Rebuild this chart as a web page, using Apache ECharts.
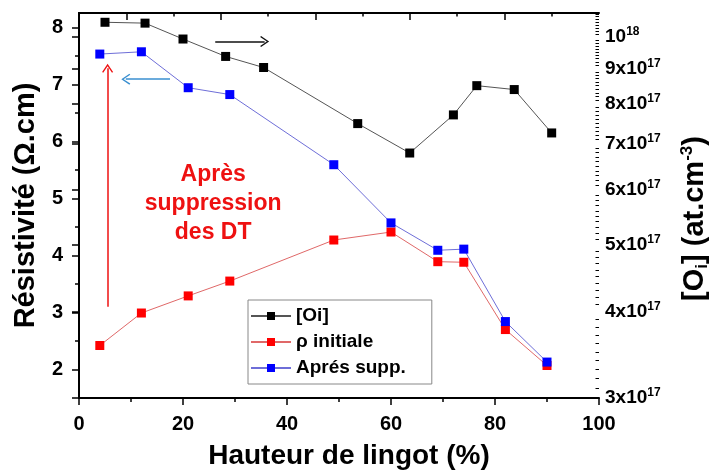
<!DOCTYPE html>
<html><head><meta charset="utf-8">
<script src="https://cdn.jsdelivr.net/npm/echarts@6/dist/echarts.min.js"></script>
<style>html,body{margin:0;padding:0;background:#fff}#c{width:710px;height:470px}</style>
</head><body><div id="c"></div>
<script>
// ---- data ----
const xPos = [4, 12, 21, 29, 49, 60, 69, 74, 82, 90];
const rhoInitiale = [2.42, 2.99, 3.29, 3.55, 4.27, 4.41, 3.89, 3.88, 2.70, 2.07];
const rhoApres = [7.53, 7.57, 6.94, 6.82, 5.59, 4.57, 4.09, 4.11, 2.84, 2.13];
const xOi = [5.0, 12.7, 20.0, 28.2, 35.5, 53.6, 63.6, 72.0, 76.5, 83.7, 90.9];
const oiValues = [1.05e18, 1.047e18, 9.93e17, 9.37e17, 9.03e17, 7.49e17, 6.79e17, 7.71e17, 8.50e17, 8.39e17, 7.26e17];

const seriesNames = ['[Oi]', 'ρ initiale', 'Aprés supp.'];
const leftTicks = [2, 3, 4, 5, 6, 7, 8];
const leftMinorTicks = [1.5, 2.5, 3.5, 4.5, 5.5, 6.5, 7.5];
const rightTicks = [3e17, 4e17, 5e17, 6e17, 7e17, 8e17, 9e17, 1e18];
const rightTickLabels = ['{m|3x10}{e|17}', '{m|4x10}{e|17}', '{m|5x10}{e|17}', '{m|6x10}{e|17}',
  '{m|7x10}{e|17}', '{m|8x10}{e|17}', '{m|9x10}{e|17}', '{m|10}{e|18}'];
const topLongTicks = [10, 30, 50, 70, 90];
const topShortTicks = [20, 40, 60, 80, 100];
const annotationText = 'Après\nsuppression\ndes DT';
// minor ticks of the right log axis, every 1e16
const rightMinorTicks = [];
for (let k = 30; k <= 108; k++) { if (k % 10 !== 0) rightMinorTicks.push(k * 1e16); }

const pair = (xs, ys) => xs.map((x, i) => [x, ys[i]]);
const FONT = "'Liberation Sans', Arial, sans-serif";
const chevron = 'path://M0,0 L6,9 L4.8,10 L0,2.6 L-4.8,10 L-6,9 Z';
const blank = () => '';
const tickLine = {color: '#000', width: 1.5};

const chart = echarts.init(document.getElementById('c'), null, {renderer: 'canvas'});
chart.setOption({
  animation: false,
  backgroundColor: '#fff',
  textStyle: {fontFamily: FONT},
  grid: {left: 79, right: 111, top: 13, bottom: 72, containLabel: false, outerBoundsMode: 'none'},
  legend: {
    data: seriesNames,
    orient: 'vertical',
    left: 248, top: 300,
    padding: [5, 26, 5, 2],
    itemGap: 4,
    itemWidth: 40, itemHeight: 10,
    borderColor: '#888', borderWidth: 1,
    textStyle: {fontFamily: FONT, fontSize: 19, fontWeight: 'bold', color: '#000', lineHeight: 22}
  },
  xAxis: [
    {
      type: 'value', min: 0, max: 100, interval: 20, position: 'bottom',
      axisLine: {show: true, lineStyle: {color: '#000', width: 2}},
      axisTick: {show: true, length: 7, lineStyle: tickLine},
      minorTick: {show: true, splitNumber: 2, length: 4, lineStyle: tickLine},
      axisLabel: {fontFamily: FONT, fontSize: 20, fontWeight: 'bold', color: '#000', margin: 16},
      splitLine: {show: false},
      name: 'Hauteur de lingot (%)', nameLocation: 'middle', nameGap: 44,
      nameTextStyle: {fontFamily: FONT, fontSize: 28, fontWeight: 'bold', color: '#000', padding: [0, 0, 0, 20]}
    },
    {
      type: 'value', min: 0, max: 110, position: 'top',
      axisLine: {show: true, lineStyle: {color: '#000', width: 2}},
      axisTick: {show: true, inside: true, length: 7, customValues: topLongTicks, lineStyle: tickLine},
      axisLabel: {show: true, customValues: topLongTicks, formatter: blank}, splitLine: {show: false}
    },
    {
      type: 'value', min: 0, max: 110, position: 'top',
      axisLine: {show: false},
      axisTick: {show: true, inside: true, length: 3.5, customValues: topShortTicks, lineStyle: tickLine},
      axisLabel: {show: true, customValues: topShortTicks, formatter: blank}, splitLine: {show: false}
    }
  ],
  yAxis: [
    {
      type: 'value', min: 1.5, max: 8.25, position: 'left',
      axisLine: {show: true, lineStyle: {color: '#000', width: 2}},
      axisTick: {show: true, length: 7, customValues: leftTicks, lineStyle: tickLine},
      axisLabel: {customValues: leftTicks, fontFamily: FONT, fontSize: 20, fontWeight: 'bold', color: '#000', margin: 16},
      splitLine: {show: false},
      name: 'Résistivité (Ω.cm)', nameLocation: 'middle', nameGap: 37,
      nameTextStyle: {fontFamily: FONT, fontSize: 29, fontWeight: 'bold', color: '#000'}
    },
    {
      type: 'value', min: 1.5, max: 8.25, position: 'left',
      axisLine: {show: false},
      axisTick: {show: true, length: 4, customValues: leftMinorTicks, lineStyle: tickLine},
      axisLabel: {show: true, customValues: leftMinorTicks, formatter: blank}, splitLine: {show: false}
    },
    {
      type: 'log', logBase: 10, min: 3e17, max: 1.083e18, position: 'right',
      axisLine: {show: true, lineStyle: {color: '#000', width: 2}},
      axisTick: {show: true, inside: true, length: 7, customValues: rightTicks, lineStyle: tickLine},
      axisLabel: {
        customValues: rightTicks, margin: 6, color: '#000',
        formatter: function (v) {
          const i = rightTicks.findIndex(t => Math.abs(t - v) / t < 1e-6);
          return i >= 0 ? rightTickLabels[i] : '';
        },
        rich: {
          m: {fontFamily: FONT, fontSize: 19, fontWeight: 'bold', color: '#000'},
          e: {fontFamily: FONT, fontSize: 12, fontWeight: 'bold', color: '#000', verticalAlign: 'bottom', padding: [0, 0, 10, 0]}
        }
      },
      splitLine: {show: false},
      name: '{m|[O}{s|i}{m|] (at.cm}{p|-3}{m|)}', nameLocation: 'middle', nameRotate: 90, nameGap: 80,
      nameTextStyle: {
        padding: [0, 26, 0, 0],
        rich: {
          m: {fontFamily: FONT, fontSize: 29, fontWeight: 'bold', color: '#000'},
          s: {fontFamily: FONT, fontSize: 17, fontWeight: 'bold', color: '#000', verticalAlign: 'top', padding: [15, 0, 0, 0]},
          p: {fontFamily: FONT, fontSize: 17, fontWeight: 'bold', color: '#000', verticalAlign: 'bottom', padding: [0, 0, 15, 0]}
        }
      }
    },
    {
      type: 'log', logBase: 10, min: 3e17, max: 1.083e18, position: 'right',
      axisLine: {show: false},
      axisTick: {show: true, inside: true, length: 3.5, customValues: rightMinorTicks, lineStyle: {color: '#000', width: 1}},
      axisLabel: {show: true, customValues: rightMinorTicks, formatter: blank}, splitLine: {show: false}
    }
  ],
  series: [
    {
      name: seriesNames[0], type: 'line', xAxisIndex: 0, yAxisIndex: 2,
      data: pair(xOi, oiValues),
      symbol: 'rect', symbolSize: 9,
      itemStyle: {color: '#000'},
      lineStyle: {color: '#555', width: 1}
    },
    {
      name: seriesNames[1], type: 'line', xAxisIndex: 0, yAxisIndex: 0,
      data: pair(xPos, rhoInitiale),
      symbol: 'rect', symbolSize: 9,
      itemStyle: {color: '#ff0000'},
      lineStyle: {color: '#e06868', width: 1},
      markPoint: {
        symbol: 'rect', symbolSize: 1, itemStyle: {color: 'rgba(0,0,0,0)'},
        label: {show: true, position: 'inside', formatter: annotationText, color: '#ee1111',
          fontFamily: FONT, fontSize: 23, fontWeight: 'bold', lineHeight: 29, align: 'center'},
        data: [{coord: [25.8, 4.9]}]
      }
    },
    {
      name: seriesNames[2], type: 'line', xAxisIndex: 0, yAxisIndex: 0,
      data: pair(xPos, rhoApres),
      symbol: 'rect', symbolSize: 9,
      itemStyle: {color: '#0000ff'},
      lineStyle: {color: '#6e6ed8', width: 1},
      markLine: {
        silent: true,
        symbol: ['none', chevron], symbolSize: [11, 9],
        label: {show: false},
        emphasis: {disabled: true},
        data: [
          [{coord: [5.5, 3.1], lineStyle: {color: '#ee1111', width: 1.5, type: 'solid'}}, {coord: [5.5, 7.28]}],
          [{coord: [17.5, 7.09], lineStyle: {color: '#3a8fd0', width: 1.5, type: 'solid'}}, {coord: [9.0, 7.09]}],
          [{coord: [26.2, 7.75], lineStyle: {color: '#111', width: 1.5, type: 'solid'}}, {coord: [35.7, 7.75]}]
        ]
      }
    }
  ]
});
</script>
</body></html>
